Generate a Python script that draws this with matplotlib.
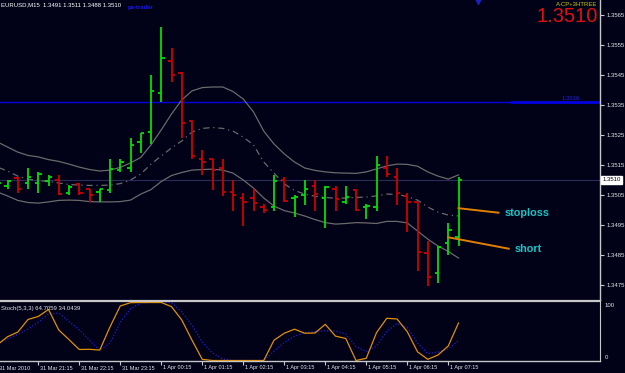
import numpy as np
import pandas as pd
import matplotlib
matplotlib.use("Agg")
import matplotlib.pyplot as plt
from matplotlib.transforms import blended_transform_factory

plt.rcParams["font.family"] = ["Liberation Sans", "DejaVu Sans"]

# EURUSD M15 bars, 31 Mar 2010 20:15 .. 1 Apr 2010 07:30
times = pd.date_range("2010-03-31 20:15", periods=46, freq="15min")

opens = [1.35080, 1.35080, 1.35107, 1.35089, 1.35089, 1.35098, 1.35100, 1.35056, 1.35087, 1.35069,
         1.35061, 1.35067, 1.35133, 1.35139, 1.35228, 1.35261, 1.35391, 1.35498, 1.35458, 1.35298,
         1.35169, 1.35169, 1.35139, 1.35061, 1.35039, 1.35039, 1.35009, 1.35011, 1.35100, 1.35039,
         1.35050, 1.35080, 1.35039, 1.35069, 1.35028, 1.35067, 1.35009, 1.35010, 1.35139, 1.35109,
         1.35047, 1.35028, 1.34858, 1.34791, 1.34891, 1.3491]
highs = [1.35097, 1.35100, 1.35109, 1.35139, 1.35128, 1.35117, 1.35117, 1.35083, 1.35089, 1.35069,
         1.35069, 1.35169, 1.35169, 1.35239, 1.35258, 1.35450, 1.35609, 1.35539, 1.35461, 1.35300,
         1.35200, 1.35169, 1.35169, 1.35100, 1.35058, 1.35069, 1.35020, 1.35117, 1.35111, 1.35050,
         1.35100, 1.35100, 1.35080, 1.35080, 1.35080, 1.35069, 1.35020, 1.35180, 1.35180, 1.35139,
         1.35058, 1.35028, 1.34898, 1.34880, 1.34958, 1.3511]
lows = [1.35070, 1.35070, 1.35058, 1.35069, 1.35058, 1.35080, 1.35050, 1.35050, 1.35050, 1.35028,
        1.35028, 1.35056, 1.35128, 1.35128, 1.35189, 1.35219, 1.35361, 1.35428, 1.35239, 1.35169,
        1.35117, 1.35067, 1.35047, 1.34998, 1.34947, 1.34998, 1.34989, 1.34998, 1.35028, 1.34978,
        1.35017, 1.34998, 1.34939, 1.34998, 1.35020, 1.34998, 1.34969, 1.34998, 1.35109, 1.35017,
        1.34928, 1.34798, 1.34747, 1.34758, 1.34850, 1.3488]
closes = [1.35090, 1.35097, 1.35069, 1.35109, 1.35119, 1.35109, 1.35053, 1.35078, 1.35056, 1.35050,
          1.35069, 1.35137, 1.35160, 1.35217, 1.35258, 1.35398, 1.35506, 1.35450, 1.35289, 1.35180,
          1.35161, 1.35133, 1.35061, 1.35050, 1.35028, 1.35022, 1.35000, 1.35098, 1.35031, 1.35042,
          1.35069, 1.35053, 1.35078, 1.35036, 1.35044, 1.35000, 1.35013, 1.35150, 1.35120, 1.35058,
          1.35028, 1.34861, 1.34778, 1.34878, 1.34933, 1.3510]

# Bollinger bands
bb_upper = [1.35227, 1.35210, 1.35193, 1.35182, 1.35177, 1.35168, 1.35162, 1.35153, 1.35143, 1.35135,
            1.35130, 1.35133, 1.35142, 1.35157, 1.35175, 1.35217, 1.35267, 1.35320, 1.35367, 1.35397,
            1.35408, 1.35410, 1.35410, 1.35395, 1.35370, 1.35327, 1.35263, 1.35220, 1.35187, 1.35160,
            1.35140, 1.35132, 1.35127, 1.35124, 1.35123, 1.35122, 1.35127, 1.35137, 1.35147, 1.35153,
            1.35152, 1.35146, 1.35127, 1.35113, 1.35103, 1.35117]
bb_mid = [1.35143, 1.35130, 1.35113, 1.35103, 1.35098, 1.35095, 1.35090, 1.35085, 1.35083, 1.35082,
          1.35082, 1.35083, 1.35088, 1.35100, 1.35120, 1.35153, 1.35180, 1.35207, 1.35230, 1.35260,
          1.35272, 1.35275, 1.35272, 1.35263, 1.35243, 1.35217, 1.35160, 1.35123, 1.35087, 1.35065,
          1.35053, 1.35046, 1.35042, 1.35039, 1.35040, 1.35042, 1.35043, 1.35047, 1.35053, 1.35052,
          1.35045, 1.35033, 1.35010, 1.34993, 1.34983, 1.34980]
bb_lower = [1.35060, 1.35047, 1.35032, 1.35025, 1.35023, 1.35027, 1.35032, 1.35033, 1.35032, 1.35028,
            1.35027, 1.35027, 1.35028, 1.35033, 1.35053, 1.35068, 1.35095, 1.35115, 1.35125, 1.35133,
            1.35135, 1.35136, 1.35133, 1.35123, 1.35100, 1.35073, 1.35040, 1.35013, 1.34998, 1.34990,
            1.34980, 1.34968, 1.34958, 1.34953, 1.34955, 1.34958, 1.34957, 1.34955, 1.34962, 1.34962,
            1.34957, 1.34930, 1.34903, 1.34880, 1.34862, 1.34840]

# Stochastic (5,3,3)
stoch_main = [27, 41, 49, 70.7, 76, 88, 52.6, 36, 19, 19.3, 18, 58, 94, 99.7, 100, 100, 100, 92.8, 70, 35,
              2, 0, 0, 0, 0, 0, 0, 35, 47, 54, 47, 47.4, 62.4, 42, 38, 0, 3.8, 48, 72.8, 71.6,
              49.7, 15, 2, 9.5, 25, 64.7059]
stoch_signal = [28, 37, 45, 54, 66, 80, 82, 67, 53, 35, 18, 30, 66, 89, 99, 100, 100, 100, 84, 61,
                32, 13, 2.6, 0, 0, 0, 0, 16, 31, 42, 48, 50, 51.4, 51, 45.7, 24, 15.5, 25, 50, 63.8,
                57, 30, 12, 14.6, 20, 34.0439]

price_ticks = [1.3475, 1.3485, 1.3495, 1.3505, 1.3515, 1.3525, 1.3535, 1.3545, 1.3555, 1.3565]
level_price = 1.3536
# drawn trend lines: (bar, price) start and end
stoploss_line = [(45, 1.35006), (48.9, 1.34991)]
short_line = [(44, 1.34909), (49.9, 1.34871)]
arrow_bar, arrow_price = 46.9, 1.35697

BG = "#010118"
GREEN = "#00e000"
RED = "#d00000"
AXC = "#c8c8c8"
TXT = "#e6e6e6"
FS = 4.3

idx = np.arange(len(opens))
o = np.array(opens); h = np.array(highs); l = np.array(lows); c = np.array(closes)
cols = np.where(c >= o, GREEN, RED)

fig = plt.figure(figsize=(6.25, 3.73), dpi=100, facecolor=BG)
ax = fig.add_axes([0, 1 - 300 / 373, 600 / 625, 300 / 373], facecolor=BG)
ax_s = fig.add_axes([0, 1 - 361 / 373, 600 / 625, 60 / 373], facecolor=BG)

x0, x1 = 2.75 / 10.25, 602.75 / 10.25

# ---- main pane ----
ax.axhline(c[-1], color="#2c2c58", lw=0.8, zorder=1)
ax.axhline(level_price, color="#0000e0", lw=1.0, zorder=1)
ax.hlines(level_price, 50.0, x1, color="#0000e0", lw=2.0, zorder=1)
ax.text(55.1, level_price + 0.00003, "1.3536", color="#2020e0", fontsize=FS, va="bottom")

ax.plot(idx, bb_upper, color="#6a6a6a", lw=0.9, zorder=2)
ax.plot(idx, bb_lower, color="#6a6a6a", lw=0.9, zorder=2)
ax.plot(idx, bb_mid, color="#6a6a6a", lw=0.9, ls=(0, (5, 3, 1, 3)), zorder=2)

ax.vlines(idx, l, h, colors=cols, lw=1.3, zorder=3)
ax.hlines(o, idx - 0.33, idx, colors=cols, lw=1.3, zorder=3)
ax.hlines(c, idx, idx + 0.33, colors=cols, lw=1.3, zorder=3)

for line in [stoploss_line, short_line]:
    (xa, ya), (xb, yb) = line
    ax.plot([xa, xb], [ya, yb], color="#e08000", lw=1.4, zorder=4)
ax.text(49.5, 1.34991, "stoploss", color="#10c8c8", fontsize=7.8, fontweight="bold", va="center")
ax.text(50.5, 1.34869, "short", color="#10c8c8", fontsize=7.8, fontweight="bold", va="center")

ax.plot([arrow_bar], [arrow_price], marker="v", color="#2020c0", ms=4, zorder=4)

ax.set_xlim(x0, x1)
ax.set_ylim(1.3470, 1.3570)
for s in ["top", "left", "bottom"]:
    ax.spines[s].set_visible(False)
ax.spines["right"].set_color(AXC)
ax.spines["right"].set_linewidth(1.0)
ax.set_xticks([])
ax.yaxis.tick_right()
ax.set_yticks(price_ticks)
ax.set_yticklabels([f"{p:.4f}" for p in price_ticks])
ax.tick_params(axis="y", colors=AXC, labelcolor=TXT, labelsize=FS, length=3, pad=1.5)

# price box at right
ax.text(1.004, (c[-1] - 1.3470) / 0.01, f"{c[-1]:.4f}", transform=ax.transAxes,
        fontsize=FS, color="black", va="center", ha="left",
        bbox=dict(boxstyle="square,pad=0.25", fc="white", ec="white"))

# header texts
fig.text(1 / 625, 1 - 5 / 373, "EURUSD,M15  1.3491 1.3511 1.3488 1.3510", color="white",
         fontsize=FS, va="center", ha="left")
fig.text(128 / 625, 1 - 8 / 373, "pa-trader", color="#1818e8", fontsize=FS, fontweight="bold",
         va="center", ha="left")
fig.text(597 / 625, 1 - 5 / 373, "A-CP+3HTREE", color="#c8c800", fontsize=FS, va="center", ha="right")
fig.text(598 / 625, 1 - 17 / 373, "1.3510", color="#e01010", fontsize=14.5, va="center", ha="right")

# ---- stochastic pane ----
ax_s.plot(idx, stoch_signal, color="#2020d8", lw=0.9, ls=(0, (1, 1.5)))
ax_s.plot(idx, stoch_main, color="#e09000", lw=0.9)
ax_s.set_xlim(x0, x1)
ax_s.set_ylim(-0.86, 102.6)
ax_s.spines["left"].set_visible(False)
for s in ["top", "right", "bottom"]:
    ax_s.spines[s].set_color(AXC)
ax_s.spines["top"].set_linewidth(1.6)
ax_s.spines["bottom"].set_linewidth(1.0)
ax_s.set_yticks([])
ax_s.text(1 / 600, 0.88, "Stoch(5,3,3) 64.7059 34.0439", transform=ax_s.transAxes, color=TXT,
          fontsize=FS, va="center", ha="left")
ax_s.text(1.008, 0.92, "100", transform=ax_s.transAxes, color=TXT, fontsize=FS, va="center")
ax_s.text(1.008, 0.06, "0", transform=ax_s.transAxes, color=TXT, fontsize=FS, va="center")

tick_idx = list(range(4, 46, 4))
ax_s.set_xticks(tick_idx)
ax_s.set_xticklabels([])
ax_s.tick_params(axis="x", colors=AXC, length=3, direction="out")
tr = blended_transform_factory(ax_s.transData, fig.transFigure)
for i in tick_idx:
    t = times[i]
    ax_s.text(i + 0.2, 1 - 368 / 373, f"{t.day} {t.strftime('%b %H:%M')}", transform=tr,
              color=TXT, fontsize=4.0, va="center", ha="left", clip_on=False)
fig.text(30 / 625, 1 - 368 / 373, f"{times[0].day} {times[0].strftime('%b %Y')}", color=TXT,
         fontsize=4.0, va="center", ha="right")

fig.savefig("out.png", dpi=100, facecolor=BG)
